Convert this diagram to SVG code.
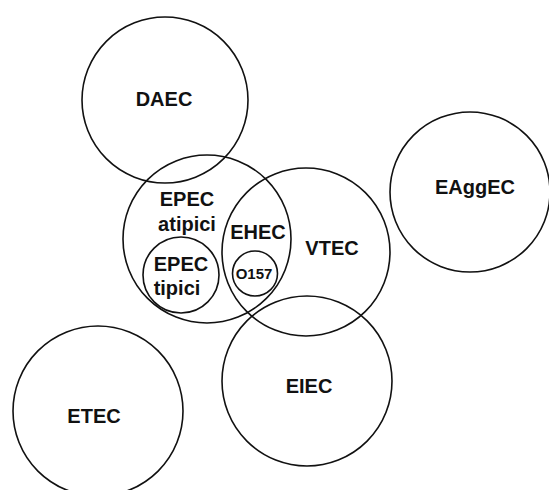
<svg xmlns="http://www.w3.org/2000/svg" width="549" height="490" viewBox="0 0 549 490">
<style>
.c{fill:none;stroke:#111;stroke-width:1.6}
.t{font-family:"Liberation Sans",Arial,sans-serif;font-size:20px;font-weight:bold;fill:#111;text-anchor:middle}
.s{font-size:15px}
</style>
<rect width="549" height="490" fill="#fff"/>
<g id="DAEC"><circle class="c" cx="165" cy="100" r="83"/><text class="t" x="164" y="106">DAEC</text></g>
<g id="EAggEC"><circle class="c" cx="470" cy="192" r="80"/><text class="t" x="475" y="194">EAggEC</text></g>
<g id="EPEC-atipici"><circle class="c" cx="207" cy="239" r="84"/><text class="t" x="187" y="206">EPEC</text><text class="t" x="187" y="231">atipici</text></g>
<g id="VTEC"><circle class="c" cx="306" cy="252" r="84"/><text class="t" x="332" y="255">VTEC</text></g>
<g id="EHEC"><text class="t" x="258" y="239">EHEC</text></g>
<g id="EPEC-tipici"><circle class="c" cx="181" cy="275" r="38"/><text class="t" x="181" y="271">EPEC</text><text class="t" x="177" y="295">tipici</text></g>
<g id="O157"><circle class="c" cx="255" cy="273.5" r="22.5"/><text class="t s" x="254" y="279">O157</text></g>
<g id="EIEC"><circle class="c" cx="307" cy="381" r="85"/><text class="t" x="309" y="393">EIEC</text></g>
<g id="ETEC"><circle class="c" cx="98" cy="411" r="85"/><text class="t" x="94" y="423">ETEC</text></g>
<g id="connectors"></g>
</svg>
